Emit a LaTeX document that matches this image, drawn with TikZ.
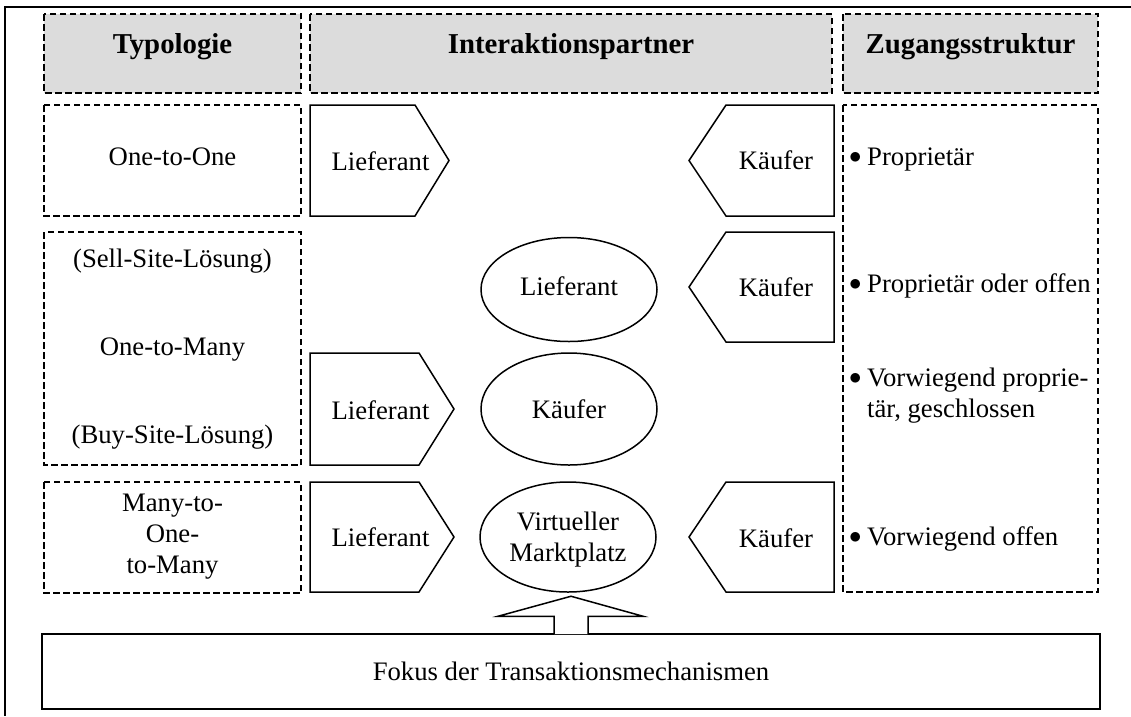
\documentclass[tikz,border=0pt]{standalone}
\usepackage{fontspec}
\setmainfont{Liberation Serif}
\usetikzlibrary{shapes.geometric,calc}
\definecolor{headgray}{RGB}{220,220,220}
% bullet used in the access-structure list
\newcommand{\listdot}{\makebox[18pt][l]{\raisebox{1.2pt}{\fontsize{24}{24}\selectfont$\bullet$}}}
\begin{document}
\begin{tikzpicture}[x=1pt,y=-1pt,
  txt/.style={font=\fontsize{26.7}{31}\selectfont, inner sep=0pt, anchor=base},
  head/.style={font=\fontsize{28.8}{33}\selectfont\bfseries, inner sep=0pt, anchor=base},
  dbox/.style={draw, line width=1.3pt, dash pattern=on 6.5pt off 3.5pt},
  hbox/.style={dbox, fill=headgray},
  shapeline/.style={draw, line width=1.5pt, line join=miter},
  oval/.style={shapeline, ellipse, minimum width=176pt, inner sep=0pt},
]
\useasboundingbox (0,0) rectangle (1131,716);

% outer frame (top and left edges)
\draw[line width=2pt] (1131,7) -- (5,7) -- (5,716);

% column headers
\draw[hbox] (44,14) rectangle (301,93);
\draw[hbox] (310,14) rectangle (832,93);
\draw[hbox] (843,14) rectangle (1098,93);
\node[head] (hTyp) at (172.5,53) {Typologie};
\node[head] (hInt) at (571,53) {Interaktionspartner};
\node[head] (hZug) at (970.5,53) {Zugangsstruktur};

% typology boxes
\draw[dbox] (44,105) rectangle (301,216);
\draw[dbox] (44,232) rectangle (301,465);
\draw[dbox] (44,482) rectangle (301,593);
\node[txt] (t1) at (172.5,165) {One-to-One};
\node[txt] (t2a) at (172.5,267) {(Sell-Site-Lösung)};
\node[txt] (t2b) at (172.5,355) {One-to-Many};
\node[txt] (t2c) at (172.5,443) {(Buy-Site-Lösung)};
\node[txt] (t3a) at (172.5,511) {Many-to-};
\node[txt] (t3b) at (172.5,542) {One-};
\node[txt] (t3c) at (172.5,573) {to-Many};

% access structure box
\draw[dbox] (843,105) rectangle (1098,592);
\node[txt, anchor=base west] (z1) at (849,165) {\listdot Proprietär};
\node[txt, anchor=base west] (z2) at (849,292) {\listdot Proprietär oder offen};
\node[txt, anchor=base west] (z3a) at (849,386) {\listdot Vorwiegend proprie-};
\node[txt, anchor=base west] (z3b) at (867,417) {tär, geschlossen};
\node[txt, anchor=base west] (z4) at (849,545) {\listdot Vorwiegend offen};

% supplier pentagons (pointing right)
\draw[shapeline] (310,105) -- (415,105) -- (449,160.5) -- (415,216) -- (310,216) -- cycle;
\draw[shapeline] (310,353) -- (419,353) -- (454,409) -- (419,465) -- (310,465) -- cycle;
\draw[shapeline] (310,482) -- (419,482) -- (454,537) -- (419,592) -- (310,592) -- cycle;
\node[txt] (l1) at (380.5,170) {Lieferant};
\node[txt] (l2) at (380.5,419) {Lieferant};
\node[txt] (l3) at (380.5,546) {Lieferant};

% buyer pentagons (pointing left)
\draw[shapeline] (834,105) -- (726,105) -- (689,160.5) -- (726,216) -- (834,216) -- cycle;
\draw[shapeline] (834,232) -- (726,232) -- (689,287) -- (726,342) -- (834,342) -- cycle;
\draw[shapeline] (834,482) -- (726,482) -- (689,537) -- (726,592) -- (834,592) -- cycle;
\node[txt] (k1) at (776,169) {Käufer};
\node[txt] (k2) at (776,296) {Käufer};
\node[txt] (k3) at (776,547) {Käufer};

% central ellipses
\node[oval, minimum height=104pt] (eL) at (569,289.5) {};
\node[oval, minimum height=112pt] (eK) at (569,409) {};
\node[oval, minimum height=110pt] (vm) at (568,537) {};
\node[txt] (eLt) at (569,295) {Lieferant};
\node[txt] (eKt) at (569,418) {Käufer};
\node[txt] (vm1) at (568,530) {Virtueller};
\node[txt] (vm2) at (568,561) {Marktplatz};

% transaction focus box and block arrow
\node[draw, line width=1.5pt, minimum width=1058pt, minimum height=75pt, inner sep=0pt] (fokus) at (571,671.5) {};
\node[txt] (fokust) at (571,680) {Fokus der Transaktionsmechanismen};
\coordinate (tip) at ($(fokus.north)+(0,-37)$);
\draw[shapeline, fill=white]
  ($(fokus.north)+(-17,0.75)$) -- ++(0,-17.75) -- ++(-56,0) -- (tip)
  -- ($(fokus.north)+(72,-17)$) -- ++(-55,0) -- ++(0,17.75);
\end{tikzpicture}
\end{document}
